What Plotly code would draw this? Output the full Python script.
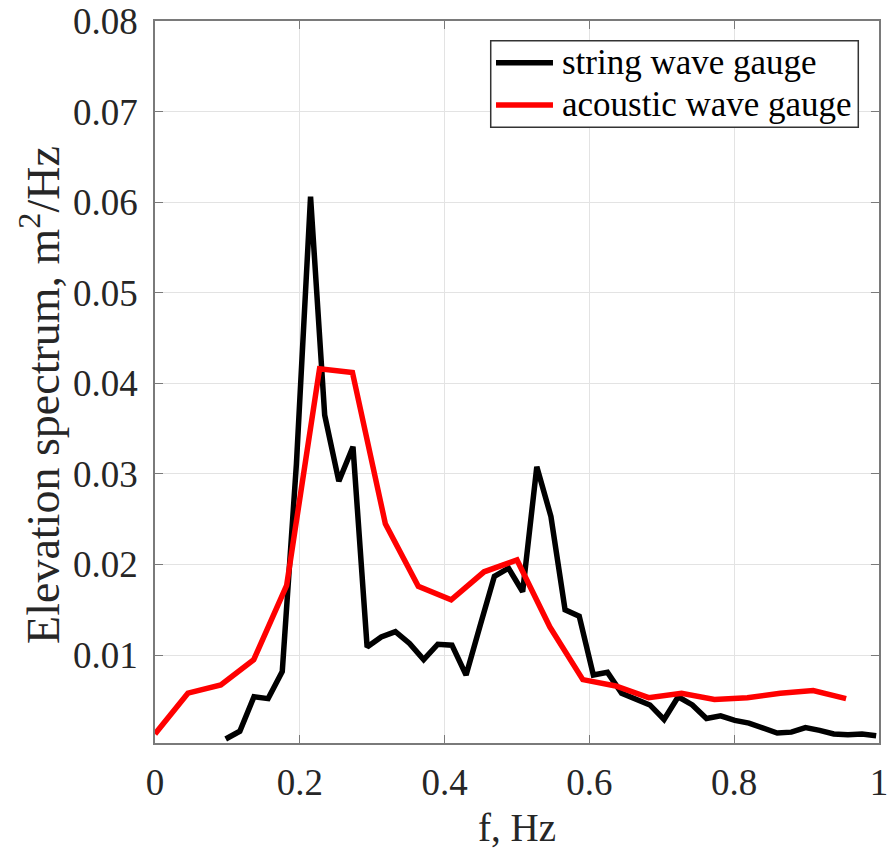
import plotly.graph_objects as go

# string wave gauge: frequency step 1/51.2 Hz, bins 5..51
string_k = list(range(5, 52))
string_f = [k / 51.2 for k in string_k]
string_s = [0.00074, 0.0016, 0.0054, 0.0052, 0.0082, 0.0311, 0.0606, 0.0365, 0.0292, 0.0330,
            0.0109, 0.0120, 0.0126, 0.0113, 0.0095, 0.0112, 0.0111, 0.0078, 0.0133, 0.0187,
            0.0196, 0.0170, 0.0308, 0.0253, 0.0150, 0.0143, 0.0078, 0.0081, 0.0058, 0.0052,
            0.0045, 0.0029, 0.0054, 0.0045, 0.0030, 0.0033, 0.0028, 0.0025, 0.0020, 0.0014,
            0.0015, 0.0020, 0.0017, 0.0013, 0.0012, 0.0013, 0.0011]

# acoustic wave gauge: frequency step 1/22 Hz, bins 0..21
acoustic_k = list(range(0, 22))
acoustic_f = [k / 22 for k in acoustic_k]
acoustic_s = [0.0013, 0.0058, 0.0067, 0.0095, 0.0177, 0.0416, 0.0412, 0.0245, 0.0176, 0.0161,
              0.0192, 0.0205, 0.0131, 0.0073, 0.0066, 0.0053, 0.0058, 0.0051, 0.0053, 0.0058,
              0.0061, 0.0052]

series_names = ["string wave gauge", "acoustic wave gauge"]
series_colors = ["black", "#ff0000"]

x_ticks = [0, 0.2, 0.4, 0.6, 0.8, 1]
x_tick_text = ["0", "0.2", "0.4", "0.6", "0.8", "1"]
y_ticks = [0.01, 0.02, 0.03, 0.04, 0.05, 0.06, 0.07, 0.08]
y_tick_text = ["0.01", "0.02", "0.03", "0.04", "0.05", "0.06", "0.07", "0.08"]

FONT = "Liberation Serif, Times New Roman, serif"
TXT = "#262626"
AX = "#7a7a7a"
GRID = "#e3e3e3"
LW = 5.5

fig = go.Figure()
fig.add_trace(go.Scatter(x=string_f, y=string_s, mode="lines", name=series_names[0],
                         line=dict(color=series_colors[0], width=LW), showlegend=False))
fig.add_trace(go.Scatter(x=acoustic_f, y=acoustic_s, mode="lines", name=series_names[1],
                         line=dict(color=series_colors[1], width=LW), showlegend=False))

axis_common = dict(showline=True, linecolor=AX, linewidth=1.5, mirror="ticks",
                   ticks="inside", ticklen=8, tickcolor=AX, tickwidth=1,
                   showgrid=True, gridcolor=GRID, gridwidth=1, zeroline=False,
                   tickfont=dict(family=FONT, size=37, color=TXT))

fig.update_xaxes(range=[0, 1], tickvals=x_ticks, ticktext=x_tick_text,
                 title=dict(text="f, Hz", font=dict(family=FONT, size=39, color=TXT), standoff=12),
                 ticklabelstandoff=6, **axis_common)
fig.update_yaxes(range=[0.0003, 0.08], tickvals=y_ticks, ticktext=y_tick_text,
                 ticklabelstandoff=8, **axis_common)

# y-axis label (placed as rotated text to match the reference position)
fig.add_annotation(xref="paper", yref="paper", x=-0.159, y=0.482, xanchor="center", yanchor="middle",
                   text="Elevation spectrum, m<sup>2</sup>/Hz", textangle=-90, showarrow=False,
                   font=dict(family=FONT, size=46, color=TXT))

# legend box drawn in paper coordinates (MATLAB-style legend)
box = dict(x0=0.4637, x1=0.9714, y0=0.8527, y1=0.9727)
row_y = [0.9422, 0.8837]
fig.add_shape(type="rect", xref="paper", yref="paper", **box,
              line=dict(color="#333333", width=1.5), fillcolor="white", layer="above")
for name, color, ry in zip(series_names, series_colors, row_y):
    fig.add_shape(type="line", xref="paper", yref="paper", x0=0.471, x1=0.5497, y0=ry, y1=ry,
                  line=dict(color=color, width=LW), layer="above")
    fig.add_annotation(xref="paper", yref="paper", x=0.5594, y=ry, xanchor="left", yanchor="middle",
                       text=name, showarrow=False,
                       font=dict(family=FONT, size=35, color="black"))

fig.update_layout(
    width=893, height=850,
    margin=dict(l=155, r=14, t=21, b=107, autoexpand=False),
    plot_bgcolor="white", paper_bgcolor="white",
    showlegend=False,
)

fig.write_html("out.html")
